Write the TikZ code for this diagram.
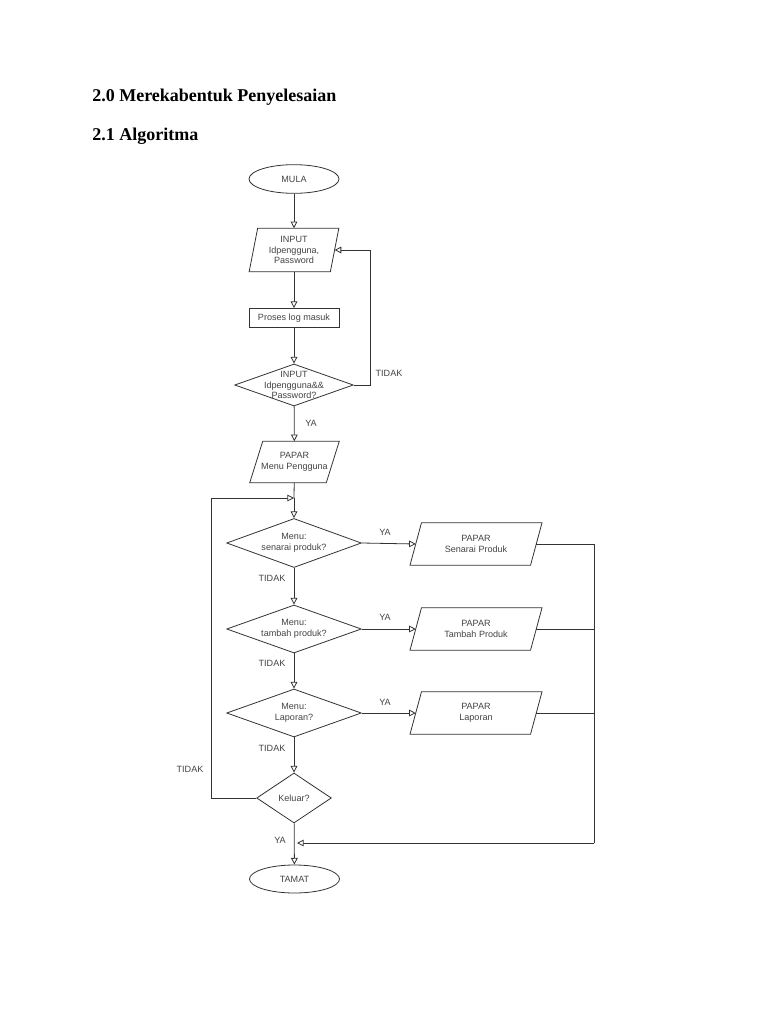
\documentclass[tikz,border=0pt]{standalone}
\usepackage{fontspec}
\setmainfont{Liberation Serif}
\newfontfamily\flowfont{Liberation Sans}
\usetikzlibrary{shapes.geometric,arrows.meta,calc}
\definecolor{ln}{HTML}{333333}
\definecolor{tx}{HTML}{444444}
\newcommand{\drawpara}[2]{\draw[ln,line width=0.6pt] ($(#1.north west)+(#2,0)$) -- ($(#1.north east)+(#2,0)$) -- ($(#1.south east)+(-#2,0)$) -- ($(#1.south west)+(-#2,0)$) -- cycle;}
\begin{document}
\begin{tikzpicture}[x=0.75pt,y=-0.75pt,
  every node/.style={font=\flowfont\fontsize{6.8}{8}\selectfont, text=tx, align=center, inner sep=0pt},
  term/.style={ellipse, draw=ln, line width=0.6pt, minimum width=67.5pt, minimum height=21.5pt},
  procbox/.style={rectangle, draw=ln, line width=0.6pt, minimum width=67.5pt, minimum height=14.25pt},
  dec/.style={diamond, draw=ln, line width=0.6pt},
  iobox/.style={rectangle, minimum height=31.5pt},
  lbl/.style={font=\flowfont\fontsize{6.8}{8}\selectfont, text=tx},
  conn/.style={ln, line width=0.6pt},
  arr/.style={conn, -{Triangle[open, length=5pt, width=5pt, fill=white]}},
  head/.style={font=\rmfamily\bfseries\fontsize{13.5}{16}\selectfont, text=black, anchor=base west}
]
\useasboundingbox (0,0) rectangle (768,1024);
\fill[white] (0,0) rectangle (768,1024);

\node[head] (h1) at (92,102) {2.0 Merekabentuk Penyelesaian};
\node[head] (h2) at (92,140) {2.1 Algoritma};

\node[term] (mula) at (294,179) {MULA};
\node[iobox, minimum width=60.5pt, minimum height=32.25pt] (in1) at (294,250) {INPUT\\Idpengguna,\\Password};
\drawpara{in1}{4.25}
\node[procbox] (proses) at (294,318) {Proses log masuk};
\node[dec, aspect=2.83, minimum width=89pt, minimum height=31.5pt] (d1) at (294,385) {};
\node (d1t) at (d1) {INPUT\\Idpengguna\&\&\\Password?};
\node[iobox, minimum width=57pt, minimum height=30.75pt] (menu) at (294.5,462) {PAPAR\\Menu Pengguna};
\drawpara{menu}{6.5}

\coordinate (j) at (294,498);
\node[dec, aspect=2.76, minimum width=101pt, minimum height=36.75pt] (d2) at (294,543) {};
\node (d2t) at (d2) {Menu:\\senarai produk?};
\node[dec, aspect=2.8, minimum width=101pt, minimum height=36pt] (d3) at (294,629) {};
\node (d3t) at (d3) {Menu:\\tambah produk?};
\node[dec, aspect=2.8, minimum width=101pt, minimum height=36pt] (d4) at (294,713) {};
\node (d4t) at (d4) {Menu:\\Laporan?};
\node[dec, aspect=1.5, minimum width=56pt, minimum height=37.5pt] (kel) at (294,798) {};
\node (kelt) at (kel) {Keluar?};
\node[term, minimum height=21pt] (tamat) at (294.5,879) {TAMAT};

\node[iobox, minimum width=90pt] (sen) at (476,544) {PAPAR\\Senarai Produk};
\drawpara{sen}{5.75}
\node[iobox, minimum width=90pt] (tam) at (476,629) {PAPAR\\Tambah Produk};
\drawpara{tam}{5.75}
\node[iobox, minimum width=90pt] (lap) at (476,713) {PAPAR\\Laporan};
\drawpara{lap}{5.75}

\coordinate (r) at (594,843);
\coordinate (m) at (294,843);

% connectors
\draw[arr] (mula) -- (in1);
\draw[arr] (in1) -- (proses);
\draw[arr] (proses) -- (d1);
\draw[arr] (d1.east) -- ++(17,0) |- (in1.east);
\draw[arr] (d1) -- (menu);
\draw[conn] (menu) -- (j);
\draw[arr] (j) -- (d2.north);
\draw[arr] (d2.east) -- (sen.west);
\draw[arr] (d2) -- (d3);
\draw[arr] (d3.east) -- (tam.west);
\draw[arr] (d3) -- (d4);
\draw[arr] (d4.east) -- (lap.west);
\draw[arr] (d4) -- (kel);
\draw[arr] (kel.west) -- ++(-45,0) |- (j);
\draw[arr] (kel) -- (tamat);
\draw[conn] (sen.east) -| (r);
\draw[conn] (tam.east) -- (tam.east -| r);
\draw[conn] (lap.east) -- (lap.east -| r);
\draw[arr] (r) -- ($(m)+(3,0)$);

% labels
\node[lbl] (t1) at (389,373) {TIDAK};
\node[lbl] (y1) at (311,423) {YA};
\node[lbl] (y2) at (385,532) {YA};
\node[lbl] (n2) at (272,578) {TIDAK};
\node[lbl] (y3) at (385,617) {YA};
\node[lbl] (n3) at (272,663) {TIDAK};
\node[lbl] (y4) at (385,702) {YA};
\node[lbl] (n4) at (272,748) {TIDAK};
\node[lbl] (n5) at (190,769) {TIDAK};
\node[lbl] (y5) at (280,840) {YA};
\end{tikzpicture}
\end{document}
